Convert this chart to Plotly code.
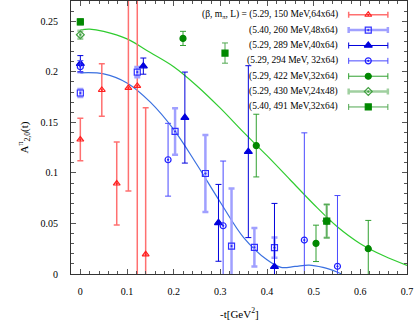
import plotly.graph_objs as go

# (5.29, 150 MeV, 64x64)
t_150 = [0.0, 0.046, 0.078, 0.103, 0.122, 0.140]
a_150 = [0.133, 0.182, 0.0895, 0.184, 0.186, 0.0195]
e_150 = [0.021, 0.026, 0.041, 0.102, 0.30, 0.145]

# (5.40, 260 MeV, 48x64)
t_260 = [0.0, 0.122, 0.203, 0.268, 0.324, 0.373, 0.416]
a_260 = [0.179, 0.1997, 0.141, 0.0994, 0.0276, 0.0264, 0.026]
e_260 = [0.004, 0.005, 0.023, 0.038, 0.057, 0.019, 0.010]

# (5.29, 289 MeV, 40x64)
t_289 = [0.0, 0.135, 0.224, 0.296, 0.360, 0.416]
a_289 = [0.208, 0.2056, 0.1547, 0.0506, 0.121, 0.0072]
e_289 = [0.008, 0.008, 0.045, 0.038, 0.085, 0.0626]

# (5.29, 294 MeV, 32x64)
t_294 = [0.0, 0.188, 0.306, 0.480, 0.551]
a_294 = [0.205, 0.113, 0.0477, 0.0336, 0.0076]
e_294 = [0.006, 0.036, 0.064, 0.106, 0.070]

# (5.29, 422 MeV, 32x64)
t_422 = [0.220, 0.377, 0.505, 0.617]
a_422 = [0.233, 0.127, 0.0303, 0.025]
e_422 = [0.007, 0.031, 0.018, 0.028]

# (5.29, 430 MeV, 24x48)
t_430 = [0.0, 0.528]
a_430 = [0.2366, 0.0523]
e_430 = [0.004, 0.0165]

# (5.40, 491 MeV, 32x64)
t_491 = [0.0, 0.310, 0.528]
a_491 = [0.2494, 0.2185, 0.0523]
e_491 = [0.003, 0.010, 0.0165]

# fit curves
fit_green_t = [0.0, 0.02, 0.05, 0.1, 0.15, 0.2, 0.25, 0.3, 0.35, 0.4, 0.45, 0.5, 0.55, 0.6, 0.65, 0.7]
fit_green_a = [0.2415, 0.2422, 0.240, 0.2325, 0.219, 0.205, 0.186, 0.164, 0.140, 0.117, 0.093, 0.069, 0.047, 0.030, 0.018, 0.0085]
fit_blue_t = [0.0, 0.05, 0.1, 0.15, 0.2, 0.25, 0.3, 0.35, 0.4, 0.43, 0.46, 0.49, 0.52, 0.55, 0.56]
fit_blue_a = [0.199, 0.198, 0.189, 0.170, 0.143, 0.108, 0.071, 0.036, 0.014, 0.0065, 0.0075, 0.0088, 0.0065, 0.002, 0.0]

labels = ["(β, m<sub>π</sub>, L) = (5.29, 150 MeV,64x64)",
          "(5.40, 260 MeV,48x64)",
          "(5.29, 289 MeV,40x64)",
          "(5.29, 294 MeV, 32x64)",
          "(5.29, 422 MeV,32x64)",
          "(5.29, 430 MeV,24x48)",
          "(5.40, 491 MeV,32x64)"]

series = [
    (t_150, a_150, e_150, "triangle-up-open-dot", "#ff2020", "#ff7070", 1.5, 6),
    (t_260, a_260, e_260, "square-open-dot", "#3030ff", "#a0a0ff", 2.5, 6),
    (t_289, a_289, e_289, "triangle-up", "#0000dd", "#0000dd", 1, 7),
    (t_294, a_294, e_294, "circle-open-dot", "#2020ff", "#4a4aff", 1, 6),
    (t_422, a_422, e_422, "circle", "#008800", "#30a030", 1, 6),
    (t_430, a_430, e_430, "diamond-open-dot", "#40a040", "#a0d0a0", 2.5, 6),
    (t_491, a_491, e_491, "square", "#008800", "#50a850", 1, 6),
]

FONT = "Liberation Serif"
fig = go.Figure()

fig.add_trace(go.Scatter(x=fit_green_t, y=fit_green_a, mode="lines",
                         line=dict(color="#30cc30", width=1.2, shape="spline"),
                         showlegend=False, hoverinfo="skip"))
fig.add_trace(go.Scatter(x=fit_blue_t, y=fit_blue_a, mode="lines",
                         line=dict(color="#3a70e0", width=1.2, shape="spline"),
                         showlegend=False, hoverinfo="skip"))

# legend rows (drawn by hand: text right-aligned, sample on the right)
leg_x = 0.617
leg_half = 0.042
leg_y0 = 0.2564
leg_dy = 0.0152

for i, (t, a, e, sym, mc, ec, th, ms) in enumerate(series):
    fig.add_trace(go.Scatter(
        x=t, y=a, mode="markers",
        marker=dict(symbol=sym, color=mc, size=ms, line=dict(color=mc, width=1.2)),
        error_y=dict(type="data", array=e, color=ec, thickness=th, width=3),
        showlegend=False))
    ly = leg_y0 - i * leg_dy
    fig.add_trace(go.Scatter(
        x=[leg_x], y=[ly], mode="markers",
        marker=dict(symbol=sym, color=mc, size=ms, line=dict(color=mc, width=1.2)),
        error_x=dict(type="data", array=[leg_half], color=ec, thickness=th, width=3),
        showlegend=False, hoverinfo="skip"))
    fig.add_annotation(x=0.557, y=ly, xref="x", yref="y", text=labels[i],
                       showarrow=False, xanchor="right", yanchor="middle",
                       font=dict(family=FONT, size=9.5, color="black"))

fig.add_annotation(x=-0.17, y=0.5, xref="paper", yref="paper",
                   text="A<sup>π</sup><sub>2,0</sub>(t)", textangle=-90,
                   showarrow=False, font=dict(family=FONT, size=11, color="black"))
fig.add_annotation(x=0.5, y=-0.143, xref="paper", yref="paper",
                   text="-t[GeV<sup>2</sup>]", yanchor="middle",
                   showarrow=False, font=dict(family=FONT, size=11, color="black"))

axis_common = dict(showgrid=False, zeroline=False, showline=True, linecolor="#333",
                   linewidth=1, mirror="ticks", ticks="inside", ticklen=5,
                   tickcolor="#555", automargin=False,
                   tickfont=dict(family=FONT, size=10, color="black"))

fig.update_layout(
    width=415, height=323,
    margin=dict(l=71, r=8, t=1, b=49),
    plot_bgcolor="white", paper_bgcolor="white",
    xaxis=dict(range=[-0.02, 0.7], tick0=0, dtick=0.1,
               minor=dict(dtick=0.02, ticks="inside", ticklen=3, tickcolor="#555"),
               ticklabelstandoff=8, **axis_common),
    yaxis=dict(range=[0, 0.27], tick0=0, dtick=0.05,
               minor=dict(dtick=0.01, ticks="inside", ticklen=3, tickcolor="#555"),
               ticklabelstandoff=10, **axis_common),
)

# the page's default body margin would push the figure 8px off the window
fig.write_html("out.html", config={"displayModeBar": False},
               post_script="document.body.style.margin='0px';")
